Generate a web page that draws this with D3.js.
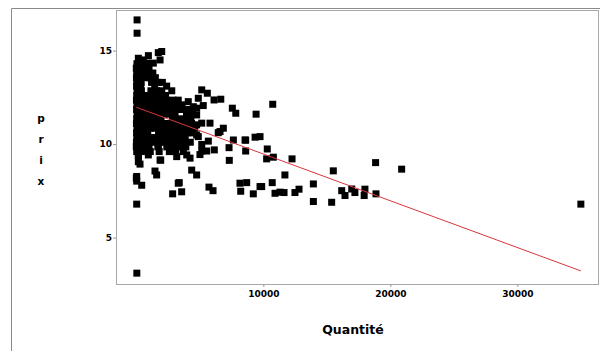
<!DOCTYPE html>
<html>
<head>
<meta charset="utf-8">
<script src="https://cdn.jsdelivr.net/npm/d3@7"></script>
<style>
  body { margin: 0; background: #fff; }
  svg { display: block; }
</style>
</head>
<body>
<div id="chart"></div>
<script>
// quantite / prix pairs
const points = [
  [60, 16.64], [60, 15.93], [40, 3.1], [30, 6.79],
  [1730, 14.89], [2000, 14.95], [950, 14.73], [160, 14.59], [550, 14.5], [1340, 14.33],
  [820, 14.33], [1870, 14.5], [0, 14.06],
  [50, 14.3], [350, 14.3],
  [300, 14.05], [650, 14.05], [1000, 14.05],
  [30, 13.8], [250, 13.8], [600, 13.8], [950, 13.8], [1300, 13.8],
  [10, 13.55], [300, 13.55], [650, 13.55], [1050, 13.55], [1500, 13.55],
  [40, 13.3], [380, 13.3], [1200, 13.3], [1700, 13.3], [2050, 13.3],
  [20, 13.1], [350, 13.1], [1450, 13.1], [2390, 13.1],
  [60, 12.85], [400, 12.85], [1150, 12.85], [1600, 12.85], [2000, 12.85], [2790, 12.85],
  [30, 12.6], [300, 12.6], [650, 12.6], [1000, 12.6], [1400, 12.6], [1800, 12.6], [2300, 12.6],
  [10, 12.35], [350, 12.35], [700, 12.35], [1100, 12.35], [1500, 12.35], [1900, 12.35], [2400, 12.35],
  [2900, 12.35], [3300, 12.35], [4090, 12.27],
  [50, 12.1], [400, 12.1], [800, 12.1], [1200, 12.1], [1600, 12.1], [2100, 12.1], [2600, 12.1],
  [3100, 12.1], [3600, 12.1], [4490, 12.0],
  [20, 11.85], [300, 11.85], [700, 11.85], [1050, 11.85], [1450, 11.85], [1850, 11.85], [2250, 11.85],
  [2700, 11.85], [3200, 11.85], [3700, 11.85], [4200, 11.85],
  [60, 11.6], [450, 11.6], [850, 11.6], [1300, 11.6], [1700, 11.6], [2150, 11.6], [2600, 11.6],
  [3050, 11.6], [3950, 11.6], [4400, 11.6],
  [30, 11.35], [350, 11.35], [750, 11.35], [1150, 11.35], [1550, 11.35], [1950, 11.35],
  [2850, 11.35], [3300, 11.35], [3800, 11.35], [4300, 11.35],
  [10, 11.1], [400, 11.1], [800, 11.1], [1250, 11.1], [1650, 11.1], [2100, 11.1], [2550, 11.1],
  [3000, 11.1], [3450, 11.1], [3900, 11.1], [4350, 11.1],
  [50, 10.85], [300, 10.85], [700, 10.85], [1100, 10.85], [1500, 10.85], [1950, 10.85], [2400, 10.85],
  [2800, 10.85], [3250, 10.85], [3700, 10.85], [4150, 10.85], [4600, 10.85],
  [20, 10.6], [450, 10.6], [900, 10.6], [1750, 10.6], [2200, 10.6], [2650, 10.6],
  [3100, 10.6], [3550, 10.6], [4000, 10.6], [4450, 10.6],
  [40, 10.35], [350, 10.35], [800, 10.35], [1200, 10.35], [1650, 10.35], [2100, 10.35], [2500, 10.35],
  [2950, 10.35], [3400, 10.35], [3850, 10.35],
  [10, 10.1], [400, 10.1], [850, 10.1], [1300, 10.1], [1800, 10.1], [2300, 10.1], [2800, 10.1],
  [3300, 10.1], [3750, 10.1], [4250, 10.1],
  [60, 9.85], [500, 9.85], [1000, 9.85], [1700, 9.85], [2400, 9.85], [2900, 9.85], [3400, 9.85], [3900, 9.85],
  [30, 9.6], [400, 9.6], [1100, 9.6], [1800, 9.6], [2600, 9.6], [3100, 9.6], [3700, 9.6],
  [5150, 12.9], [5590, 12.72], [6120, 12.36], [6650, 12.4], [5270, 12.06], [7560, 11.92], [7830, 11.65],
  [4750, 11.92], [4750, 11.56], [5150, 11.12], [5800, 11.12], [6850, 10.85], [6450, 10.61], [4750, 11.03],
  [4750, 10.49], [4880, 12.45], [4880, 10.4], [6590, 10.67], [7640, 10.22], [8560, 10.22], [6140, 9.69],
  [5150, 9.63], [5010, 9.44], [5540, 9.63], [5150, 9.98], [5670, 10.16],
  [9430, 11.6], [10740, 12.13], [9350, 10.37], [9740, 10.4], [8610, 10.21], [7300, 9.81], [8610, 9.63],
  [10310, 9.74], [10260, 9.21], [10790, 9.3], [12260, 9.21], [11700, 8.35], [10700, 7.94], [9870, 7.73],
  [10920, 7.37], [11310, 7.43], [11630, 7.41], [12490, 7.41], [12810, 7.59], [13940, 7.87], [13940, 6.93],
  [15380, 6.89], [15510, 8.57], [16170, 7.51], [16430, 7.25], [16960, 7.6], [17210, 7.41], [18000, 7.59],
  [17940, 7.25], [18870, 7.34], [18840, 9.01], [20890, 8.66], [35000, 6.79],
  [9210, 7.34], [9740, 7.73], [7320, 9.13], [8160, 7.91], [8690, 7.94], [8220, 7.48], [5720, 7.7],
  [6040, 7.51], [4750, 8.35], [4360, 8.61], [3380, 7.94], [3570, 7.45], [2860, 7.34], [1920, 9.14],
  [1470, 8.56], [1600, 8.35], [425, 7.8], [30, 8.02], [30, 8.27], [160, 9.36], [290, 8.93], [0, 9.87],
  [160, 9.42], [160, 9.06], [820, 9.69], [945, 9.42], [1730, 9.87], [1870, 9.15], [3050, 9.87],
  [3180, 9.33], [3970, 9.42], [4230, 9.25], [0, 8.18], [3300, 7.91]
];

// fitted line prix = a + b * quantite
const droiteA = 11.97;
const droiteB = -0.00025;

const xTicks = [10000, 20000, 30000];
const yTicks = [5, 10, 15];
const yLetters = ["p", "r", "i", "x"];

const width = 600, height = 351;
const plot = { left: 116, right: 598, top: 10, bottom: 284 };

const svg = d3.select("#chart").append("svg")
  .attr("width", width)
  .attr("height", height);

// outer frame
svg.append("path")
  .attr("d", "M11.5," + height + "V8.5H" + width)
  .attr("fill", "none")
  .attr("stroke", "#8a8a8a");

let x = d3.scaleLinear().domain([-1600, 36350]).range([plot.left, plot.right]);
let y = d3.scaleLinear().domain([2.52, 17.17]).range([plot.bottom, plot.top]);

svg.append("rect")
  .attr("x", plot.left + 0.5)
  .attr("y", plot.top + 0.5)
  .attr("width", plot.right - plot.left)
  .attr("height", plot.bottom - plot.top)
  .attr("fill", "none")
  .attr("stroke", "#a8a8a8");

// markers
svg.selectAll(".pt")
  .data(points)
  .enter().append("rect")
  .attr("class", "pt")
  .attr("x", d => x(d[0]) - 3.5)
  .attr("y", d => y(d[1]) - 3.5)
  .attr("width", 7)
  .attr("height", 7)
  .attr("fill", "#000");

// regression line
const xs = d3.extent(points, d => d[0]);
svg.append("line")
  .attr("x1", x(xs[0]))
  .attr("y1", y(droiteA + droiteB * xs[0]))
  .attr("x2", x(xs[1]))
  .attr("y2", y(droiteA + droiteB * xs[1]))
  .attr("stroke", "#d9363e")
  .attr("stroke-width", 1);

// axes
const xAxis = svg.append("g")
  .attr("transform", "translate(0," + plot.bottom + ")")
  .call(d3.axisBottom(x).tickValues(xTicks).tickSize(3).tickPadding(4).tickFormat(d3.format("d")));
const yAxis = svg.append("g")
  .attr("transform", "translate(" + plot.left + ",0)")
  .call(d3.axisLeft(y).tickValues(yTicks).tickSize(3).tickPadding(1));

[xAxis, yAxis].forEach(g => {
  g.select(".domain").remove();
  g.selectAll("line").attr("stroke", "#999");
  g.selectAll("text")
    .attr("fill", "#000")
    .style("font-family", "DejaVu Sans, sans-serif")
    .style("font-weight", "bold")
    .style("font-size", "9px");
});

// titles
svg.append("text")
  .attr("x", 353)
  .attr("y", 334)
  .attr("text-anchor", "middle")
  .style("font-family", "DejaVu Sans, sans-serif")
  .style("font-weight", "bold")
  .style("font-size", "12.5px")
  .text("Quantité");

svg.selectAll(".ylab")
  .data(yLetters)
  .enter().append("text")
  .attr("class", "ylab")
  .attr("x", 41)
  .attr("y", (d, i) => 122 + i * 21)
  .attr("text-anchor", "middle")
  .style("font-family", "DejaVu Sans, sans-serif")
  .style("font-weight", "bold")
  .style("font-size", "10.5px")
  .text(d => d);
</script>
</body>
</html>
